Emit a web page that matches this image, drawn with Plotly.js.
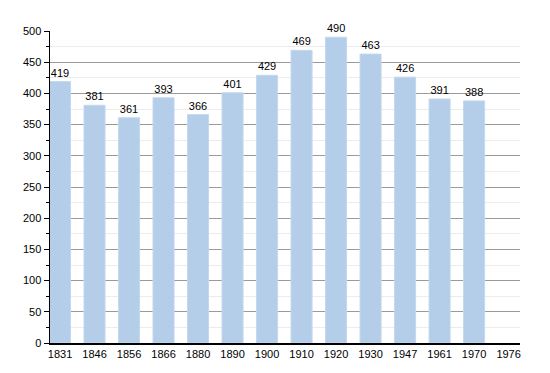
<!DOCTYPE html>
<html><head><meta charset="utf-8">
<script src="https://cdn.plot.ly/plotly-3.0.1.min.js"></script>
<style>body{margin:0;background:#fff}#c{width:550px;height:373px}</style>
</head><body><div id="c"></div>
<script>
const years = ["1831","1846","1856","1866","1880","1890","1900","1910","1920","1930","1947","1961","1970","1976"];
const population = [419,381,361,393,366,401,429,469,490,463,426,391,388,null];
const yTicks = [0,50,100,150,200,250,300,350,400,450,500];

Plotly.newPlot('c', [{
  type: 'bar',
  x: years.map((_, i) => i),
  y: population,
  width: 0.61,
  marker: {color: '#b4cde9', line: {color: '#c4d8ee', width: 1}},
  text: population.map(v => v == null ? '' : String(v)),
  textposition: 'outside',
  cliponaxis: false,
  textfont: {family: 'Liberation Sans, Arial, sans-serif', size: 11, color: '#000'},
  hoverinfo: 'none'
}], {
  width: 550, height: 373,
  margin: {l: 50, r: 30, t: 31, b: 30},
  paper_bgcolor: '#fff', plot_bgcolor: '#fff',
  showlegend: false,
  font: {family: 'Liberation Sans, Arial, sans-serif', size: 11, color: '#000'},
  xaxis: {
    range: [-0.29, 13.33],
    tickmode: 'array', tickvals: years.map((_, i) => i), ticktext: years,
    showgrid: false, zeroline: false,
    showline: true, linecolor: '#000', linewidth: 1.5,
    ticks: '', tickfont: {size: 11}
  },
  yaxis: {
    range: [0, 500],
    tickmode: 'array', tickvals: yTicks, ticktext: yTicks.map(String),
    showgrid: true, gridcolor: '#9a9a9a', gridwidth: 1,
    zeroline: false,
    showline: true, linecolor: '#000', linewidth: 1.5,
    ticks: 'outside', ticklen: 5, tickcolor: '#000', tickwidth: 1,
    minor: {dtick: 25, showgrid: true, gridcolor: '#ececec', ticks: 'outside', ticklen: 3, tickcolor: '#000'},
    tickfont: {size: 11}
  },
  bargap: 0.4
}, {displayModeBar: false, staticPlot: true});
</script></body></html>
